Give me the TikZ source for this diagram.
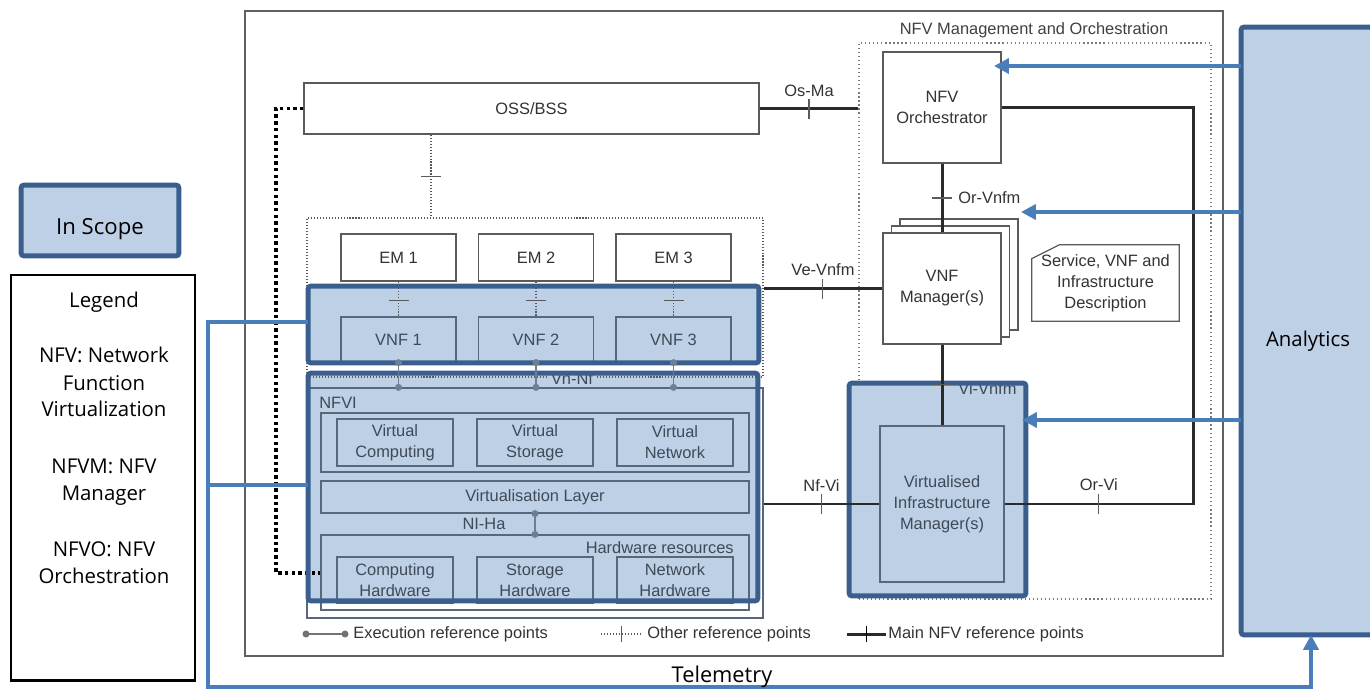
\documentclass[tikz,border=0pt]{standalone}
\usepackage{fontspec}
\setmainfont{Liberation Sans}
\newfontfamily\outerfont{Open Sans}
\usetikzlibrary{arrows.meta,calc}

\definecolor{hlfill}{HTML}{BED0E6}
\definecolor{hlborder}{HTML}{3A5F8E}
\definecolor{telblue}{HTML}{4A7EBB}
\definecolor{boxgray}{HTML}{5A5A5A}
\definecolor{txtgray}{HTML}{333333}
\definecolor{inline}{HTML}{56687A}
\definecolor{intext}{HTML}{3E4A57}
\definecolor{execc}{HTML}{6C8094}
\definecolor{refline}{HTML}{2A2A2A}
\definecolor{framegray}{HTML}{606060}
\definecolor{manogray}{HTML}{7A7A7A}

\newcommand\dfont{\fontsize{9.35pt}{11.9pt}\selectfont}
\newcommand\ofont{\outerfont\fontsize{11.6pt}{15.6pt}\selectfont}
\newcommand\mytickv[1]{\draw[tick] ($(#1)+(0,-10)$) -- ($(#1)+(0,10)$);}
\newcommand\mytickh[1]{\draw[tick] ($(#1)+(-10,0)$) -- ($(#1)+(10,0)$);}
\newcommand\execdot[2][execc]{\fill[#1] (#2) circle (2pt);}

\tikzset{
  sz/.style 2 args={minimum width=#1*0.02cm, minimum height=#2*0.02cm},
  box/.style={draw=boxgray, line width=0.7pt, fill=white, inner sep=0pt,
    text=txtgray, font=\dfont, align=center},
  inbox/.style={draw=inline, line width=0.7pt, inner sep=0pt,
    text=intext, font=\dfont, align=center},
  lbl/.style={font=\dfont, text=txtgray, inner sep=0pt},
  inlbl/.style={font=\dfont, text=intext, inner sep=0pt},
  hl/.style={fill=hlfill, draw=none, inner sep=0pt},
  hlb/.style={draw=hlborder, line width=2.8pt, rounded corners=1.5pt},
  tick/.style={draw=boxgray, line width=0.6pt},
  mainref/.style={draw=refline, line width=1.7pt},
  otherref/.style={draw=boxgray, line width=0.6pt, dash pattern=on 0.6pt off 1.1pt},
  bigdot/.style={draw=black, line width=2pt, dash pattern=on 2pt off 1.8pt},
  execline/.style={draw=execc, line width=1pt},
  tele/.style={draw=telblue, line width=2.1pt},
  tip/.style={-{Triangle[length=8.5pt,width=8.5pt]}},
}

\begin{document}
\begin{tikzpicture}[x=0.02cm, y=-0.02cm]
\useasboundingbox (0,0) rectangle (1370,690);
\begin{scope}
\clip (0,0) rectangle (1370,690);

% ---------- outer frame and MANO block ----------
\node[draw=framegray, line width=0.9pt, fill=white, inner sep=0pt, sz={978}{645}] (frame) at (734,333.5) {};
\node[lbl, text=black!75] (manotitle) at (1034,30) {NFV Management and Orchestration};
\node[draw=manogray, line width=0.7pt, dash pattern=on 0.7pt off 1.6pt, inner sep=0pt, sz={352}{556}] (mano) at (1035,321) {};

% ---------- in-scope shading (fill only) ----------
\node[hl, sz={450}{76}]  (hvnf)  at (533.5,324.5) {};
\node[hl, sz={449}{227}] (hnfvi) at (533,487) {};
\node[hl, sz={176}{212}] (hvim)  at (937.5,489.5) {};

% ---------- OSS/BSS, EMs and VNFs ----------
\node[box, sz={455}{51}] (oss) at (531.5,108.5) {OSS/BSS};
\node[draw=boxgray, line width=0.6pt, dash pattern=on 0.6pt off 1.1pt, inner sep=0pt, sz={456}{159}] (emvnf) at (535,297.5) {};
\foreach \i/\x in {1/398.5,2/536,3/673.5} {
  \node[box, sz={115}{47}] (em\i) at (\x,257.5) {EM \i};
  \node[inbox, sz={115}{45}] (vnf\i) at (\x,339.5) {VNF \i};
}
\node[inlbl, fill=hlfill, inner xsep=1.5pt] (vnnf) at (572,379) {Vn-Nf};

% ---------- NFVI ----------
\node[draw=inline, line width=0.7pt, inner sep=0pt, sz={456}{230}] (nfvi) at (535,503) {};
\node[inlbl, anchor=west] (nfvilbl) at (319,403) {NFVI};
\node[inbox, sz={428}{59}] (vrow) at (535,442.5) {};
\node[inbox, sz={116}{47}] (vc) at (395,442.5) {Virtual\\Computing};
\node[inbox, sz={116}{47}] (vs) at (535,442.5) {Virtual\\Storage};
\node[inbox, sz={116}{47}] (vn) at (675,442.5) {Virtual\\Network};
\node[inbox, sz={428}{32}] (vl) at (535,497) {Virtualisation Layer};
\node[inbox, sz={428}{75}] (hw) at (535,572.5) {};
\node[inlbl, anchor=east] (hwlbl) at (734,548) {Hardware resources};
\node[inbox, sz={116}{46}] (ch) at (395,580) {Computing\\Hardware};
\node[inbox, sz={116}{46}] (sh) at (535,580) {Storage\\Hardware};
\node[inbox, sz={116}{46}] (nh) at (675,580) {Network\\Hardware};
\node[inlbl] (nihalbl) at (484,524) {NI-Ha};

% ---------- MANO contents ----------
\node[box, sz={118}{111}] (orch) at (942,107.5) {NFV\\Orchestrator};
\node[box, sz={118}{111}] (vnfmb2) at (959,274.5) {};
\node[box, sz={118}{111}] (vnfmb1) at (950.5,281.5) {};
\node[box, sz={118}{111}] (vnfm) at (942,288.5) {VNF\\Manager(s)};
\node[lbl, align=center, sz={147}{76}] (sdesc) at (1105.5,283) {Service, VNF and\\Infrastructure\\Description};
\draw[boxgray, line width=0.7pt] ($(sdesc.north west)+(0,14)$) -- ($(sdesc.north west)+(28,0)$)
  -- (sdesc.north east) -- (sdesc.south east) -- (sdesc.south west) -- cycle;
\node[inbox, sz={124}{156}] (vim) at (942,504) {Virtualised\\Infrastructure\\Manager(s)};
\node[inlbl, anchor=west] (vivnfmlbl) at (958,389) {Vi-Vnfm};

% ---------- other reference points (dotted) ----------
\draw[otherref] (431,0 |- oss.south) -- coordinate (tossem) (431,0 |- emvnf.north);
\mytickh{tossem}
\foreach \i in {1,2,3} {
  \draw[otherref] (em\i.south) -- coordinate[pos=0.53] (temv\i) (vnf\i.north);
  \mytickh{temv\i}
}
\draw[bigdot] (oss.west) -- (276,0 |- oss.west) -- (276,573) -- (hw.west |- 0,573);
\coordinate (tbig) at (276,321);
\mytickh{tbig}

% ---------- in-scope borders ----------
\foreach \n in {hvnf,hnfvi,hvim}
  \draw[hlb] (\n.south west) rectangle (\n.north east);

% ---------- main NFV reference points ----------
\draw[mainref] (oss.east) -- coordinate (tosma) (oss.east -| mano.west);
\mytickv{tosma}
\node[lbl] at ($(tosma)+(0,-18)$) {Os-Ma};

\draw[mainref] (emvnf.east |- vnfm.west) -- coordinate (tvevnfm) (vnfm.west);
\mytickv{tvevnfm}
\node[lbl] at ($(tvevnfm)+(0,-19)$) {Ve-Vnfm};

\draw[mainref] (nfvi.east |- vim.west) -- coordinate (tnfvi) (vim.west);
\mytickv{tnfvi}
\node[lbl] at ($(tnfvi)+(0,-18)$) {Nf-Vi};

\draw[mainref] (vim.east) -- coordinate (torvi) (1193,0 |- vim.east) -- (1193,0 |- orch.east) -- (orch.east);
\mytickv{torvi}
\node[lbl] at ($(torvi)+(0,-19)$) {Or-Vi};

\draw[mainref] (orch.south) -- coordinate (torvnfm) (vnfm.north);
\mytickh{torvnfm}
\node[lbl, anchor=west] at ($(torvnfm)+(16,0)$) {Or-Vnfm};

\draw[mainref] (vnfm.south) -- coordinate[pos=0.49] (tvivnfm) (vim.north);
\mytickh{tvivnfm}

% ---------- execution reference points ----------
\foreach \i in {1,2,3} {
  \draw[execline] (vnf\i.south) -- (vnf\i.south |- nfvi.north);
  \execdot{vnf\i.south}
  \execdot{vnf\i.south |- nfvi.north}
}
\draw[execline] (vl.south) -- (hw.north);
\execdot{vl.south}
\execdot{hw.north}

% ---------- key of reference point styles ----------
\coordinate (ka) at (306,634); \coordinate (kb) at (345,634);
\draw[execline, draw=black!55] (ka) -- (kb);
\execdot[black!55]{ka}
\execdot[black!55]{kb}
\node[lbl, anchor=west] at (353,634) {Execution reference points};
\coordinate (kc) at (601,634); \coordinate (kd) at (642,634);
\draw[otherref] (kc) -- coordinate (tk2) (kd);
\draw[tick] ($(tk2)+(0,-8)$) -- ($(tk2)+(0,8)$);
\node[lbl, anchor=west] at (647,634) {Other reference points};
\coordinate (ke) at (847,634); \coordinate (kf) at (886,634);
\draw[mainref] (ke) -- coordinate (tk3) (kf);
\draw[tick, draw=black, line width=0.8pt] ($(tk3)+(0,-8)$) -- ($(tk3)+(0,8)$);
\node[lbl, anchor=west] at (888,634) {Main NFV reference points};

% ---------- analytics and telemetry ----------
\node[hl, sz={139}{607}] (analytics) at (1311,331) {};
\draw[hlb] (analytics.south west) rectangle (analytics.north east);
\node[font=\ofont] (anlbl) at (1308,341) {Analytics};

\coordinate (tipO) at (994,66);
\coordinate (tipV) at (1021,212);
\coordinate (tipI) at (1022,420);
\draw[tele, tip] (analytics.west |- tipO) -- (tipO);
\draw[tele, tip] (analytics.west |- tipV) -- (tipV);
\draw[tele, tip] (analytics.west |- tipI) -- (tipI);

\coordinate (telA) at (208,322);
\coordinate (telB) at (208,485);
\coordinate (telC) at (208,687);
\draw[tele, tip] (hvnf.west |- telA) -- (telA) -- (telC) -- (telC -| analytics.south) -- (analytics.south);
\draw[tele] (hnfvi.west |- telB) -- (telB);
\node[font=\outerfont\fontsize{12.4pt}{15pt}\selectfont, anchor=base] (tellbl) at (722,682) {Telemetry};

% ---------- key on the left ----------
\node[hl, sz={157}{70}] (inscope) at (100,220.5) {};
\draw[hlb] (inscope.south west) rectangle (inscope.north east);
\node[font=\outerfont\fontsize{12.6pt}{15pt}\selectfont] (inscopelbl) at (100,229) {In Scope};

\node[draw=black, line width=1.7pt, inner sep=0pt, sz={184}{405}] (legendbox) at (103,477.5) {};
\foreach \t/\y in {Legend/307, NFV: Network/362, Function/390, Virtualization/416,
                   NFVM: NFV/473, Manager/500, NFVO: NFV/556, Orchestration/583}
  \node[font=\ofont, anchor=base] at (104,\y) {\t};

\end{scope}
\end{tikzpicture}
\end{document}
